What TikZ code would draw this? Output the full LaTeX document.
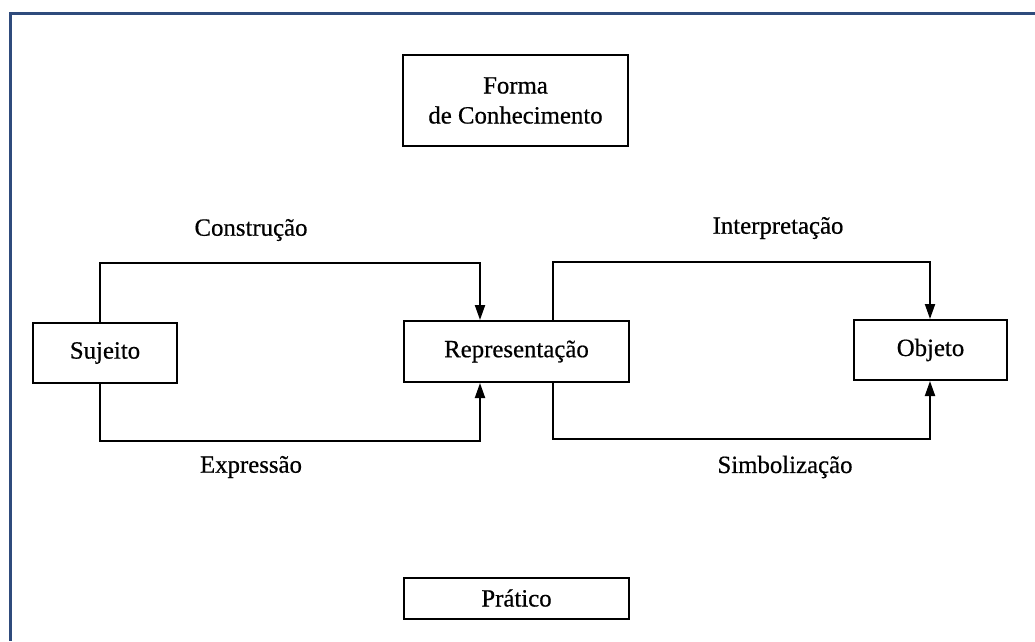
\documentclass[tikz,border=0pt]{standalone}
\usepackage{fontspec}
\setmainfont{Liberation Serif}[FakeBold=0.6]
\usetikzlibrary{arrows.meta}
\definecolor{frameblue}{HTML}{2F4B7C}
\tikzset{
  box/.style={draw, line width=2pt, inner sep=0pt, align=center, text=black,
    font=\fontsize{24.8}{30}\selectfont},
  lbl/.style={inner sep=0pt, font=\fontsize{24.8}{30}\selectfont},
  conn/.style={line width=2pt, -{Triangle[length=15pt,width=10pt]}}
}
\begin{document}
\begin{tikzpicture}[x=1pt,y=-1pt]
\useasboundingbox (0,0) rectangle (1035,641);
\fill[white] (0,0) rectangle (1035,641);
\draw[frameblue, line width=3pt] (1035,13.5) -- (10.5,13.5) -- (10.5,641);

\node[box, minimum width=225pt, minimum height=91pt] (forma) at (515.5,100.5) {Forma\\de Conhecimento};
\node[box, minimum width=144pt, minimum height=60pt] (suj) at (105,353) {Sujeito};
\node[box, minimum width=225pt, minimum height=61pt] (rep) at (516.5,351.5) {Representação};
\node[box, minimum width=153pt, minimum height=60pt] (obj) at (930.5,350) {Objeto};
\node[box, minimum width=225pt, minimum height=41pt] (prat) at (516.5,598) {Prático};

\coordinate (a1) at (100,263);
\coordinate (a2) at (480,263);
\coordinate (b1) at (100,441);
\coordinate (b2) at (480,441);
\coordinate (c1) at (553,262);
\coordinate (c2) at (930,262);
\coordinate (d1) at (553,439);
\coordinate (d2) at (930,439);

\draw[conn] (suj.north -| a1) -- (a1) -| (rep.north -| a2);
\draw[conn] (suj.south -| b1) -- (b1) -| (rep.south -| b2);
\draw[conn] (rep.north -| c1) -- (c1) -| (obj.north -| c2);
\draw[conn] (rep.south -| d1) -- (d1) -| (obj.south -| d2);

\node[lbl] (lc) at (251,230) {Construção};
\node[lbl] (li) at (778,228) {Interpretação};
\node[lbl] (le) at (251,467) {Expressão};
\node[lbl] (ls) at (785,467) {Simbolização};
\end{tikzpicture}
\end{document}
